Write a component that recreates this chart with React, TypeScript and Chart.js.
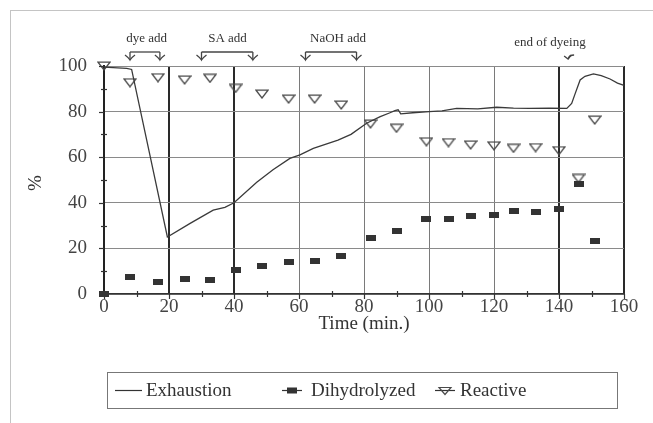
import React, { useEffect, useRef } from "react";
import { Chart, registerables } from "chart.js";

Chart.register(...registerables);

// ---- data ----
const exhaustionTime = [0, 7, 8.5, 19.5, 26.5, 33.6, 37.2, 40, 47, 52, 57.2, 60.3, 64.4, 72, 76, 80.8, 85, 88, 89.5, 90.5, 91.3, 95, 100, 104, 108.5, 115, 120.8, 126, 131, 137, 142.4, 143.9, 145, 146.5, 148, 150.6, 153, 155.7, 158, 160];
const exhaustionValue = [99.5, 99, 98.5, 25, 31, 36.8, 38, 40, 49, 54.5, 59.5, 61, 63.9, 67.5, 70, 74.9, 77.8, 79.5, 80.4, 80.8, 79, 79.5, 80, 80.3, 81.4, 81.2, 81.9, 81.5, 81.4, 81.5, 81.4, 83.6, 88, 93.9, 95.5, 96.5, 95.8, 94.3, 92.5, 91.5];

const sampleTimes = [0, 8, 16.6, 24.8, 32.6, 40.5, 48.6, 56.8, 64.8, 73, 82, 90, 99.2, 106, 112.8, 120, 126, 132.8, 140, 146, 151];
const dihydrolyzedValue = [0, 7.6, 5.1, 6.6, 6.1, 10.5, 12.4, 13.9, 14.5, 16.8, 24.7, 27.5, 32.9, 32.9, 34.3, 34.8, 36.3, 35.8, 37.1, 48.2, 23.4];
const reactiveValue = [100, 92.7, 94.9, 93.9, 94.6, 90.2, 87.7, 85.5, 85.5, 82.9, 74.6, 72.7, 66.8, 66.4, 65.4, 65, 63.9, 64.2, 62.9, 50.7, 76.3];

const xTicks = [0, 20, 40, 60, 80, 100, 120, 140, 160];
const yTicks = [0, 20, 40, 60, 80, 100];
const emphasizedTimes = [20, 40, 140, 160];

const seriesLabels = ["Exhaustion", "Dihydrolyzed", "Reactive"];
const xTitle = "Time (min.)";
const yTitle = "%";

const annotationLabels = ["dye add", "SA add", "NaOH add", "end of dyeing"];
const annotationTextAt = [13.1, 38, 72, 137.2];
const annotationFrom = [8, 30, 62, 142.8];
const annotationTo: (number | null)[] = [17.2, 45.8, 77.7, null];

const FONT = '"Liberation Serif", "Times New Roman", serif';

function makeRectImg() {
  const c = document.createElement("canvas");
  c.width = 10;
  c.height = 6;
  const g = c.getContext("2d")!;
  g.fillStyle = "#333";
  g.fillRect(0, 0, 10, 6);
  return c;
}

function makeTriImg() {
  const c = document.createElement("canvas");
  c.width = 14;
  c.height = 10;
  const g = c.getContext("2d")!;
  g.strokeStyle = "#4a4a4a";
  g.lineWidth = 1.3;
  g.beginPath();
  g.moveTo(1, 1.2);
  g.lineTo(13, 1.2);
  g.lineTo(7, 9);
  g.closePath();
  g.stroke();
  return c;
}

function drawDownArrow(ctx: CanvasRenderingContext2D, x: number, yTop: number, yTip: number) {
  ctx.beginPath();
  ctx.moveTo(x, yTop);
  ctx.lineTo(x, yTip);
  ctx.stroke();
  ctx.beginPath();
  ctx.moveTo(x - 5, yTip - 4);
  ctx.quadraticCurveTo(x - 1, yTip - 1, x, yTip + 1);
  ctx.quadraticCurveTo(x + 1, yTip - 1, x + 5, yTip - 4);
  ctx.stroke();
}

const decorPlugin = {
  id: "decor",
  beforeDraw(chart: any) {
    const ctx = chart.ctx as CanvasRenderingContext2D;
    ctx.save();
    ctx.fillStyle = "#fff";
    ctx.fillRect(0, 0, chart.width, chart.height);
    ctx.strokeStyle = "#c4c4c4";
    ctx.lineWidth = 1;
    ctx.strokeRect(10.5, 10.5, chart.width + 20, chart.height + 20);
    ctx.restore();
  },
  afterDraw(chart: any) {
    const ctx = chart.ctx as CanvasRenderingContext2D;
    const area = chart.chartArea;
    const x = chart.scales.x;
    const y = chart.scales.y;
    ctx.save();

    // tick marks
    ctx.strokeStyle = "#333";
    ctx.lineWidth = 1.2;
    for (let i = 0; i < xTicks.length; i++) {
      const px = Math.round(x.getPixelForValue(xTicks[i])) + 0.5;
      ctx.beginPath();
      ctx.moveTo(px, area.bottom);
      ctx.lineTo(px, area.bottom + 5);
      ctx.stroke();
      if (i < xTicks.length - 1) {
        const m = Math.round(x.getPixelForValue((xTicks[i] + xTicks[i + 1]) / 2)) + 0.5;
        ctx.beginPath();
        ctx.moveTo(m, area.bottom - 3);
        ctx.lineTo(m, area.bottom + 3);
        ctx.stroke();
      }
    }
    for (let i = 0; i < yTicks.length; i++) {
      const py = Math.round(y.getPixelForValue(yTicks[i])) + 0.5;
      ctx.beginPath();
      ctx.moveTo(area.left - 5, py);
      ctx.lineTo(area.left, py);
      ctx.stroke();
      if (i < yTicks.length - 1) {
        const m = Math.round(y.getPixelForValue((yTicks[i] + yTicks[i + 1]) / 2)) + 0.5;
        ctx.beginPath();
        ctx.moveTo(area.left - 3, m);
        ctx.lineTo(area.left + 3, m);
        ctx.stroke();
      }
    }

    // axis titles
    ctx.fillStyle = "#333";
    ctx.font = `19px ${FONT}`;
    ctx.textAlign = "center";
    ctx.textBaseline = "middle";
    ctx.fillText(xTitle, (area.left + area.right) / 2, area.bottom + 30);
    ctx.save();
    ctx.translate(36, (area.top + area.bottom) / 2 + 3);
    ctx.rotate(-Math.PI / 2);
    ctx.fillText(yTitle, 0, 0);
    ctx.restore();

    // annotations
    ctx.font = `13px ${FONT}`;
    ctx.strokeStyle = "#444";
    ctx.lineWidth = 1.3;
    for (let i = 0; i < annotationLabels.length; i++) {
      const tx = x.getPixelForValue(annotationTextAt[i]);
      const to = annotationTo[i];
      const fx = x.getPixelForValue(annotationFrom[i]);
      if (to !== null) {
        ctx.fillText(annotationLabels[i], tx, area.top - 27);
        const ex = x.getPixelForValue(to);
        const by = area.top - 14;
        ctx.beginPath();
        ctx.moveTo(fx, by);
        ctx.lineTo(ex, by);
        ctx.stroke();
        drawDownArrow(ctx, fx, by, area.top - 7);
        drawDownArrow(ctx, ex, by, area.top - 7);
      } else {
        ctx.fillText(annotationLabels[i], tx, area.top - 23);
        const ty = area.top - 8;
        ctx.beginPath();
        ctx.moveTo(fx + 6, ty - 3);
        ctx.quadraticCurveTo(fx + 1, ty - 3, fx, ty + 1);
        ctx.stroke();
        ctx.beginPath();
        ctx.moveTo(fx - 4, ty - 2);
        ctx.lineTo(fx, ty + 1);
        ctx.lineTo(fx + 3, ty - 3);
        ctx.stroke();
      }
    }

    // legend
    const lx = 107.5, ly = 372.5, lw = 510, lh = 36;
    ctx.strokeStyle = "#777";
    ctx.lineWidth = 1;
    ctx.strokeRect(lx, ly, lw, lh);
    const cy = ly + lh / 2;
    ctx.font = `19px ${FONT}`;
    ctx.textAlign = "left";
    ctx.fillStyle = "#333";
    ctx.strokeStyle = "#333";
    ctx.lineWidth = 1.2;
    // Exhaustion
    ctx.beginPath();
    ctx.moveTo(115, cy);
    ctx.lineTo(142, cy);
    ctx.stroke();
    ctx.fillText(chart.data.datasets[0].label, 146, cy + 1);
    // Dihydrolyzed
    ctx.beginPath();
    ctx.moveTo(282, cy);
    ctx.lineTo(302, cy);
    ctx.stroke();
    ctx.fillRect(287, cy - 3, 10, 6);
    ctx.fillText(chart.data.datasets[1].label, 311, cy + 1);
    // Reactive
    ctx.beginPath();
    ctx.moveTo(435, cy);
    ctx.lineTo(455, cy);
    ctx.stroke();
    ctx.strokeStyle = "#4a4a4a";
    ctx.beginPath();
    ctx.moveTo(439, cy - 3);
    ctx.lineTo(451, cy - 3);
    ctx.lineTo(445, cy + 4);
    ctx.closePath();
    ctx.stroke();
    ctx.fillText(chart.data.datasets[2].label, 460, cy + 1);

    ctx.restore();
  },
};

export default function App() {
  const ref = useRef<HTMLCanvasElement>(null);
  useEffect(() => {
    if (!ref.current) return;
    const rectImg = makeRectImg();
    const triImg = makeTriImg();
    const chart = new Chart(ref.current, {
      type: "line",
      data: {
        datasets: [
          {
            label: seriesLabels[0],
            data: exhaustionTime.map((t, i) => ({ x: t, y: exhaustionValue[i] })),
            borderColor: "#3a3a3a",
            borderWidth: 1.3,
            pointRadius: 0,
            tension: 0,
            clip: false as any,
          },
          {
            label: seriesLabels[1],
            data: sampleTimes.map((t, i) => ({ x: t, y: dihydrolyzedValue[i] })),
            showLine: false,
            pointStyle: rectImg as any,
            pointRadius: 5,
            clip: false as any,
          },
          {
            label: seriesLabels[2],
            data: sampleTimes.map((t, i) => ({ x: t, y: reactiveValue[i] })),
            showLine: false,
            pointStyle: triImg as any,
            pointRadius: 6,
            clip: false as any,
          },
        ],
      },
      options: {
        animation: false,
        responsive: false,
        devicePixelRatio: 1,
        events: [],
        layout: { padding: { top: 66, right: 29, left: 0, bottom: 0 } },
        plugins: { legend: { display: false }, tooltip: { enabled: false } },
        scales: {
          x: {
            type: "linear",
            min: 0,
            max: 160,
            afterFit: (s: any) => {
              s.height = 129;
            },
            afterBuildTicks: (s: any) => {
              s.ticks = xTicks.map((v) => ({ value: v }));
            },
            ticks: {
              font: { family: FONT, size: 19 },
              color: "#444",
              padding: 2,
              maxRotation: 0,
              autoSkip: false,
            },
            grid: {
              drawTicks: false,
              color: (c: any) => (emphasizedTimes.includes(c.tick?.value) ? "#2a2a2a" : "#7a7a7a"),
              lineWidth: (c: any) => (emphasizedTimes.includes(c.tick?.value) ? 2 : 1),
            },
            border: { color: "#333", width: 1.5 },
          },
          y: {
            min: 0,
            max: 100,
            afterFit: (s: any) => {
              s.width = 104;
            },
            afterBuildTicks: (s: any) => {
              s.ticks = yTicks.map((v) => ({ value: v }));
            },
            ticks: {
              font: { family: FONT, size: 19 },
              color: "#444",
              padding: 17,
            },
            grid: { drawTicks: false, color: "#8a8a8a", lineWidth: 1 },
            border: { color: "#222", width: 2 },
          },
        },
      },
      plugins: [decorPlugin as any],
    });
    return () => chart.destroy();
  }, []);
  return (
    <div style={{ position: "fixed", left: 0, top: 0, width: 653, height: 423, background: "#fff" }}>
      <canvas ref={ref} width={653} height={423} style={{ width: 653, height: 423 }} />
    </div>
  );
}
